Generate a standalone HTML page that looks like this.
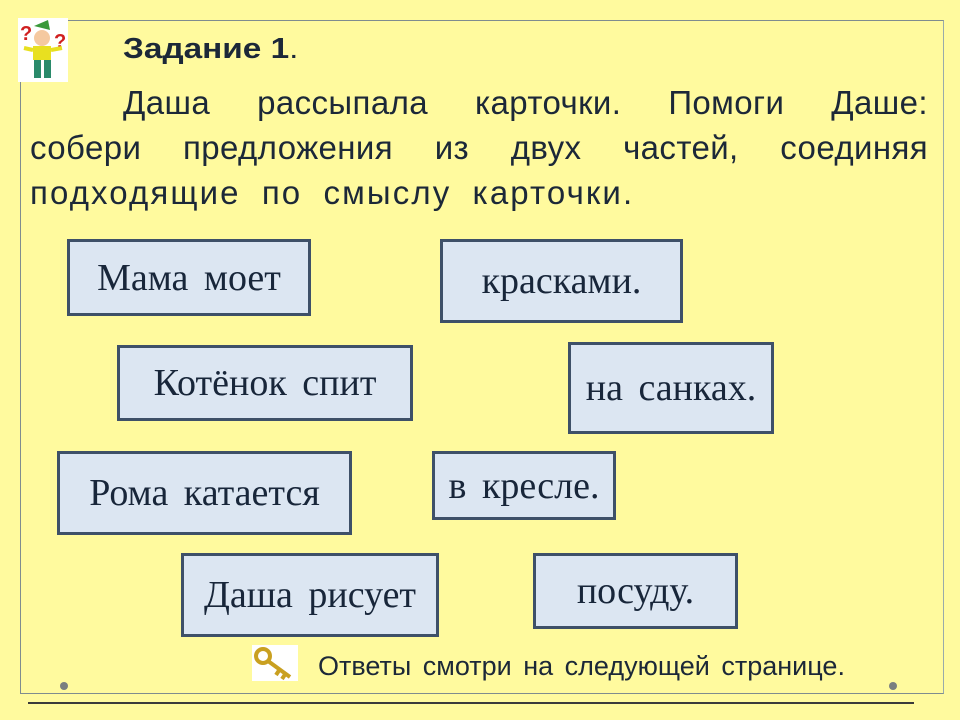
<!DOCTYPE html>
<html><head><meta charset="utf-8"><style>
body{margin:0;width:960px;height:720px;background:#fffa9e;position:relative;overflow:hidden;font-family:"Liberation Sans",sans-serif;color:#1c2838}
.frame{position:absolute;left:20px;top:20px;width:922px;height:672px;border:1px solid #7f8c8f;border-right-color:#9aa;}
.l{position:absolute;font-size:33px;white-space:nowrap;letter-spacing:0.4px}
.j{text-align:justify;text-align-last:justify;width:898px;left:30px;white-space:normal}
.c{position:absolute;box-sizing:border-box;border:3px solid #3e5068;background:#dce6f2;font-family:"Liberation Serif",serif;font-size:38px;color:#18263a;display:flex;align-items:center;justify-content:center;word-spacing:6px}
.dot{position:absolute;width:8px;height:8px;border-radius:50%;background:#7a7f80}
</style></head><body>
<div class="frame"></div>
<svg style="position:absolute;left:18px;top:18px" width="50" height="64" viewBox="0 0 50 64">
<rect width="50" height="64" fill="#fff"/>
<text x="2" y="22" font-size="20" font-weight="bold" fill="#d02020" font-family="Liberation Sans">?</text>
<text x="36" y="30" font-size="20" font-weight="bold" fill="#d02020" font-family="Liberation Sans">?</text>
<path d="M16 8 L30 2 L32 12 Z" fill="#3a9a3a"/>
<circle cx="24" cy="20" r="8" fill="#f5c9a0"/>
<rect x="15" y="28" width="18" height="14" fill="#e8e020"/>
<path d="M6 30 L15 32 M33 32 L44 30" stroke="#e8e020" stroke-width="4"/>
<rect x="16" y="42" width="7" height="18" fill="#2a8a6a"/><rect x="26" y="42" width="7" height="18" fill="#2a8a6a"/>
</svg>
<div class="l" style="left:123px;top:33px;font-size:29px;font-weight:bold;transform:scaleX(1.15);transform-origin:left;letter-spacing:0">Задание 1<span style="font-weight:normal">.</span></div>
<div class="l j" style="top:84px;padding-left:93px;width:805px">Даша рассыпала карточки. Помоги Даше:</div>
<div class="l j" style="top:129px">собери предложения из двух частей, соединяя</div>
<div class="l" style="left:30px;top:174px;word-spacing:10px;letter-spacing:2.1px">подходящие по смыслу карточки.</div>
<div class="c" style="left:67px;top:239px;width:244px;height:77px">Мама моет</div>
<div class="c" style="left:440px;top:239px;width:243px;height:84px">красками.</div>
<div class="c" style="left:117px;top:345px;width:296px;height:76px">Котёнок спит</div>
<div class="c" style="left:568px;top:342px;width:206px;height:92px">на санках.</div>
<div class="c" style="left:57px;top:451px;width:295px;height:84px">Рома катается</div>
<div class="c" style="left:432px;top:451px;width:184px;height:69px">в кресле.</div>
<div class="c" style="left:181px;top:553px;width:258px;height:84px">Даша рисует</div>
<div class="c" style="left:533px;top:553px;width:205px;height:76px">посуду.</div>
<svg style="position:absolute;left:252px;top:645px" width="46" height="36" viewBox="0 0 46 36">
<rect width="46" height="36" fill="#fff"/>
<circle cx="11" cy="11" r="7" fill="none" stroke="#c9a020" stroke-width="4"/>
<path d="M16 16 L38 32 M28 24 L24 30 M34 28 L30 34" stroke="#c9a020" stroke-width="4"/>
</svg>
<div class="l" style="left:318px;top:651px;font-size:27px;word-spacing:4px;letter-spacing:0">Ответы смотри на следующей странице.</div>
<div class="dot" style="left:60px;top:682px"></div>
<div class="dot" style="left:889px;top:682px"></div>
<div style="position:absolute;left:28px;top:702px;width:886px;height:2px;background:#3a3a3a"></div>
</body></html>
